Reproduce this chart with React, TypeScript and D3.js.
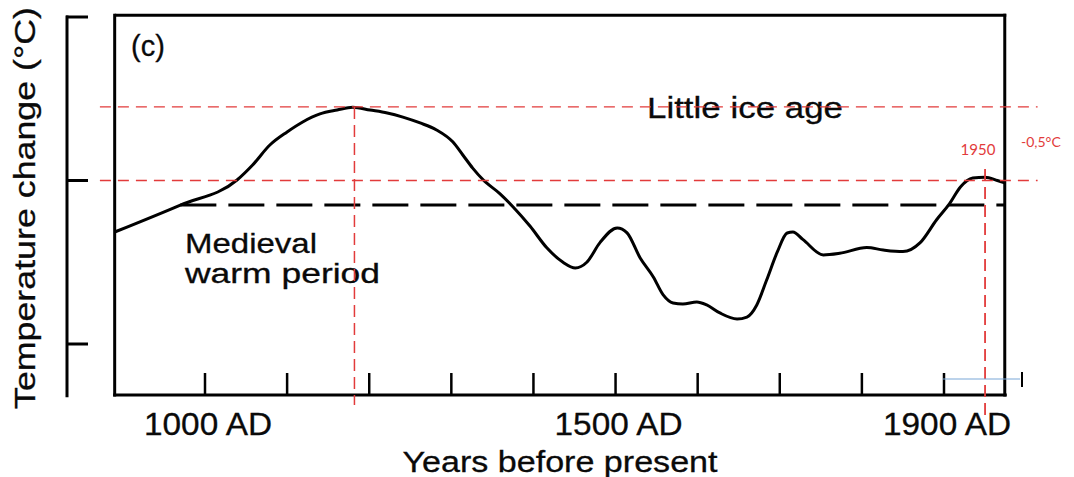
import React from "react";
import * as d3 from "d3";

// ---- data ----
const years: number[] = [
  890, 970, 1039, 1058, 1079, 1100, 1119, 1140, 1161, 1180, 1201, 1222, 1241, 1262,
  1282, 1302, 1314, 1326, 1339, 1359, 1375, 1396, 1416, 1436, 1451, 1465, 1481, 1502,
  1514, 1530, 1546, 1558, 1570, 1582, 1599, 1611, 1627, 1648, 1660, 1672, 1684, 1697,
  1709, 1716, 1728, 1753, 1773, 1806, 1826, 1850, 1871, 1891, 1907, 1920, 1935, 1950,
  1965, 1974,
];
const temps: number[] = [
  -0.315, -0.15, 0.003, 0.095, 0.217, 0.297, 0.358, 0.407, 0.431, 0.448, 0.431, 0.413, 0.388, 0.352,
  0.309, 0.235, 0.156, 0.076, 0.003, -0.08, -0.16, -0.28, -0.41, -0.5, -0.535, -0.5, -0.38, -0.29,
  -0.32, -0.474, -0.59, -0.7, -0.749, -0.755, -0.743, -0.761, -0.81, -0.847, -0.835, -0.761, -0.609, -0.437,
  -0.321, -0.315, -0.36, -0.455, -0.445, -0.41, -0.425, -0.435, -0.38, -0.24, -0.14, -0.04, 0.015, 0.02,
  0.0, -0.015,
];
const tickYears: number[] = [1000, 1100, 1200, 1300, 1400, 1500, 1600, 1700, 1800, 1900];
const labelYears: number[] = [1000, 1500, 1900];
const tickLabels: string[] = ["1000 AD", "1500 AD", "1900 AD"];
const yTicks: number[] = [1, 0, -1];
const baselineLevel = -0.15; // black dashed reference
const baselineStart = 970;
const redLevels: number[] = [0.45, 0.0];
const peakYear = 1182;
const markYear = 1950;

export default function App() {
  const W = 1074;
  const H = 477;
  const x = d3.scaleLinear().domain([1000, 1900]).range([205, 944]);
  const y = d3.scaleLinear().domain([-1, 1]).range([344, 17]);
  const xMin = 890, xMax = 1974;
  const yMin = -1.312, yMax = 1.01;
  const L = x(xMin), R = x(xMax), T = y(yMax), B = y(yMin);

  const pts: [number, number][] = years.map((yr, i) => [yr, temps[i]]);
  const line = d3
    .line<[number, number]>()
    .x((d) => x(d[0]))
    .y((d) => y(d[1]))
    .curve(d3.curveMonotoneX);

  const font = "'Liberation Sans', Arial, Helvetica, sans-serif";
  const red = "#e23b3b";
  const ink = "#0a0a0a";

  return (
    <svg
      width={W}
      height={H}
      style={{ position: "absolute", left: 0, top: 0, background: "#fff" }}
    >
      <rect x={0} y={0} width={W} height={H} fill="#fff" />
      {/* left bracket axis */}
      <line x1={67} x2={67} y1={y(1) - 1.5} y2={y(-1.325)} stroke="#000" strokeWidth={3} />
      {yTicks.map((t) => (
        <line key={t} x1={66} x2={88} y1={y(t)} y2={y(t)} stroke="#000" strokeWidth={3} />
      ))}
      {/* y title */}
      <text
        transform={`translate(35,${208}) rotate(-90)`}
        textAnchor="middle"
        fontFamily={font}
        fontSize={30}
        textLength={402}
        lengthAdjust="spacingAndGlyphs"
        fill={ink}
        stroke={ink}
        strokeWidth={0.3}
      >
        Temperature change (°C)
      </text>

      {/* plot frame */}
      <line x1={L} x2={R + 1.5} y1={T} y2={T} stroke="#000" strokeWidth={3} />
      <line x1={L} x2={L} y1={T - 1.5} y2={B + 1.5} stroke="#000" strokeWidth={3} />
      <line x1={R} x2={R} y1={T - 1.5} y2={B + 1.5} stroke="#000" strokeWidth={3} />
      <line x1={L - 1.5} x2={R + 2} y1={B} y2={B} stroke="#000" strokeWidth={3} />

      {/* bottom ticks */}
      {tickYears.map((t) => (
        <line key={t} x1={x(t)} x2={x(t)} y1={B} y2={B - 22} stroke="#000" strokeWidth={2.5} />
      ))}
      {labelYears.map((t, i) => (
        <text
          key={t}
          x={x(t) + 3}
          y={435}
          textAnchor="middle"
          fontFamily={font}
          fontSize={32}
          textLength={128}
          lengthAdjust="spacingAndGlyphs"
          fill={ink}
          stroke={ink}
          strokeWidth={0.3}
        >
          {tickLabels[i]}
        </text>
      ))}
      <text
        x={560}
        y={472}
        textAnchor="middle"
        fontFamily={font}
        fontSize={29}
        textLength={315}
        lengthAdjust="spacingAndGlyphs"
        fill={ink}
        stroke={ink}
        strokeWidth={0.3}
      >
        Years before present
      </text>

      {/* annotations */}
      <text x={131} y={56} fontFamily={font} fontSize={29} fill={ink} stroke={ink} strokeWidth={0.3}>
        (c)
      </text>
      <text
        x={647}
        y={118}
        fontFamily={font}
        fontSize={30}
        textLength={196}
        lengthAdjust="spacingAndGlyphs"
        fill={ink}
        stroke={ink}
        strokeWidth={0.3}
      >
        Little ice age
      </text>
      <text
        x={185}
        y={253}
        fontFamily={font}
        fontSize={28}
        textLength={132}
        lengthAdjust="spacingAndGlyphs"
        fill={ink}
        stroke={ink}
        strokeWidth={0.3}
      >
        Medieval
      </text>
      <text
        x={185}
        y={283}
        fontFamily={font}
        fontSize={28}
        textLength={195}
        lengthAdjust="spacingAndGlyphs"
        fill={ink}
        stroke={ink}
        strokeWidth={0.3}
      >
        warm period
      </text>

      {/* black dashed reference */}
      <line
        x1={x(baselineStart)}
        x2={R}
        y1={y(baselineLevel)}
        y2={y(baselineLevel)}
        stroke="#000"
        strokeWidth={3}
        strokeDasharray="36 12"
      />

      {/* curve */}
      <path d={line(pts) || ""} fill="none" stroke="#000" strokeWidth={3} strokeLinejoin="round" />

      {/* red overlays */}
      {redLevels.map((v) => (
        <line
          key={v}
          x1={x(872)}
          x2={x(2014)}
          y1={y(v)}
          y2={y(v)}
          stroke={red}
          strokeWidth={1.3}
          strokeDasharray="11 7"
        />
      ))}
      <line
        x1={x(peakYear)}
        x2={x(peakYear)}
        y1={y(0.45)}
        y2={y(-1.373)}
        stroke={red}
        strokeWidth={1.5}
        strokeDasharray="12 6"
      />
      <line
        x1={x(markYear)}
        x2={x(markYear)}
        y1={y(0.07)}
        y2={y(-1.455)}
        stroke={red}
        strokeWidth={1.8}
        strokeDasharray="12 6"
      />
      <text x={978} y={155} textAnchor="middle" fontFamily="Lato, 'Open Sans', sans-serif" fontSize={15} fill={red}>
        1950
      </text>
      <text x={1021} y={147} fontFamily="Lato, 'Open Sans', sans-serif" fontSize={14} fill={red}>
        -0,5°C
      </text>

      {/* small editing marks at lower right */}
      <line x1={943} x2={1020} y1={379} y2={379} stroke="#7aa7d8" strokeWidth={1.2} />
      <line x1={1022} x2={1022} y1={372} y2={387} stroke="#000" strokeWidth={2} />
    </svg>
  );
}
